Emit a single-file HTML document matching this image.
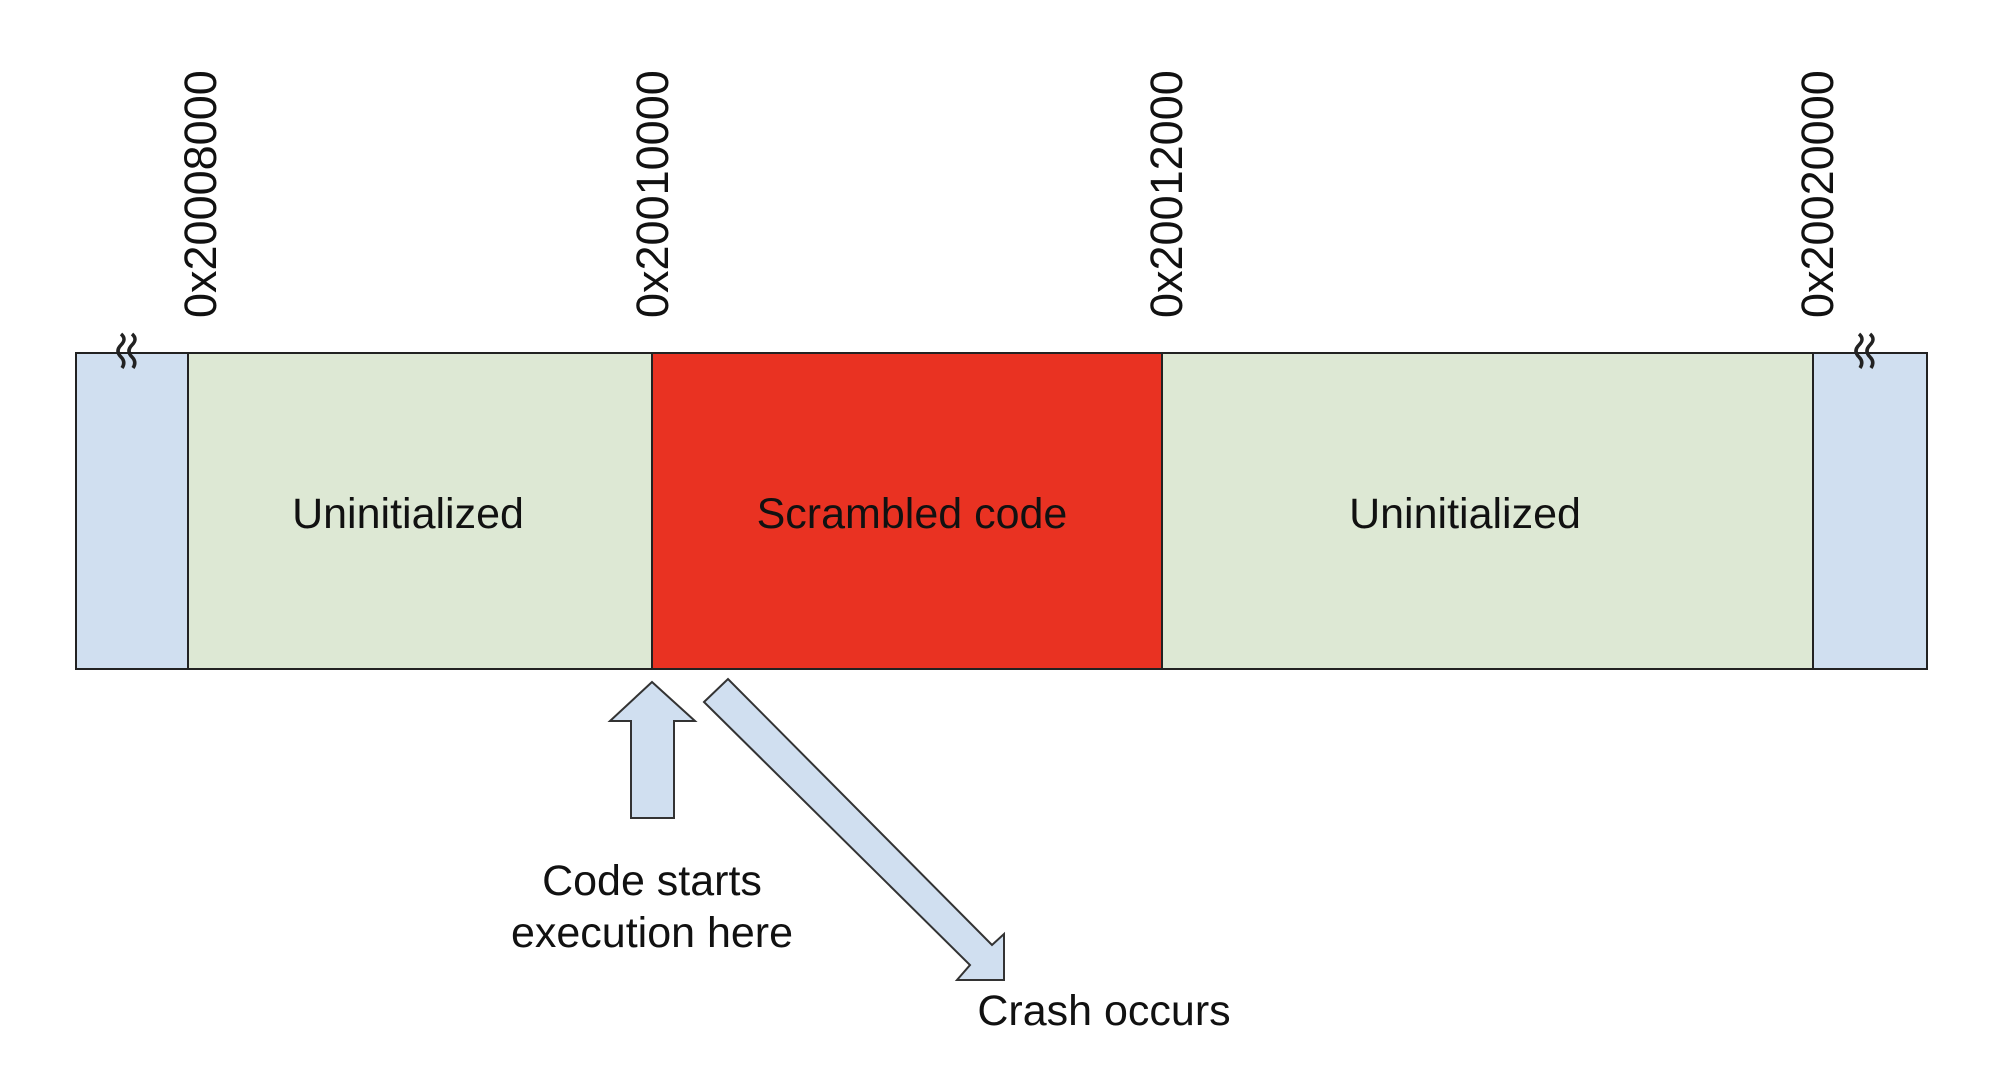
<!DOCTYPE html>
<html><head><meta charset="utf-8"><style>html,body{margin:0;padding:0;background:#fff;}svg{display:block;}</style></head>
<body>
<svg width="2008" height="1072" viewBox="0 0 2008 1072" xmlns="http://www.w3.org/2000/svg" font-family="'Liberation Sans', Arial, sans-serif" fill="#111">
  <rect x="76" y="353" width="112" height="316" fill="#d0dff0" stroke="#222" stroke-width="2"/>
  <rect x="188" y="353" width="464" height="316" fill="#dde8d4" stroke="#222" stroke-width="2"/>
  <rect x="652" y="353" width="510" height="316" fill="#e93222" stroke="#222" stroke-width="2"/>
  <rect x="1162" y="353" width="651" height="316" fill="#dde8d4" stroke="#222" stroke-width="2"/>
  <rect x="1813" y="353" width="114" height="316" fill="#d0dff0" stroke="#222" stroke-width="2"/>

  <g fill="none" stroke="#222" stroke-width="3.5">
    <path d="M121 334 q6 5 0 11 q-6 6 0 12 q5 5 1 11"/>
    <path d="M132 334 q6 5 0 11 q-6 6 0 12 q5 5 1 11"/>
    <path d="M1859 334 q6 5 0 11 q-6 6 0 12 q5 5 1 11"/>
    <path d="M1870 334 q6 5 0 11 q-6 6 0 12 q5 5 1 11"/>
  </g>

  <g font-size="45">
    <text transform="translate(216,318) rotate(-90)">0x20008000</text>
    <text transform="translate(668,318) rotate(-90)">0x20010000</text>
    <text transform="translate(1182,318) rotate(-90)">0x20012000</text>
    <text transform="translate(1833,318) rotate(-90)">0x20020000</text>
  </g>

  <g font-size="43" text-anchor="middle">
    <text x="408" y="528">Uninitialized</text>
    <text x="912" y="528">Scrambled code</text>
    <text x="1465" y="528">Uninitialized</text>
  </g>

  <polygon points="652,682 695,721 674,721 674,818 631,818 631,721 610,721" fill="#d0dff0" stroke="#333" stroke-width="2"/>
  <polygon points="704,702 728,679 992,945 1004,934 1004,980 957,980 970,965" fill="#d0dff0" stroke="#333" stroke-width="2"/>

  <g font-size="43" text-anchor="middle">
    <text x="652" y="895">Code starts</text>
    <text x="652" y="947">execution here</text>
    <text x="1104" y="1025">Crash occurs</text>
  </g>
</svg>
</body></html>
